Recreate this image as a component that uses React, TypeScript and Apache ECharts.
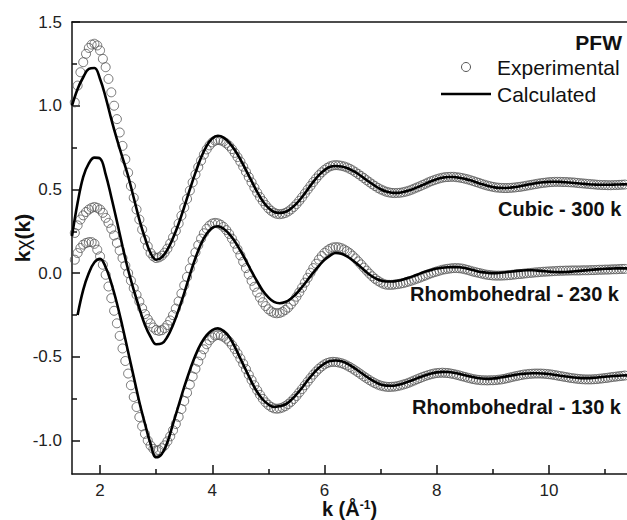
import React, { useEffect, useRef } from "react";
import * as echarts from "echarts";

// k grids (Å^-1): experimental sampled every 0.05, calculated every 0.1
const K_EXP_START = 1.55;
const K_EXP_STEP = 0.05;
const K_CALC_START = 1.5;
const K_CALC_STEP = 0.1;

// Cubic - 300 K, experimental (k = 1.55 ... 11.35)
const cubicExp = [
  1.02, 1.12, 1.2, 1.26, 1.31, 1.345, 1.365, 1.37, 1.36, 1.33, 1.28, 1.23, 1.16, 1.08, 1.0, 0.92, 0.84, 0.76, 0.68, 0.6,
  0.52, 0.45, 0.38, 0.32, 0.26, 0.2, 0.16, 0.12, 0.1, 0.09,
  0.094, 0.104, 0.122, 0.146, 0.177, 0.213, 0.252, 0.296, 0.343, 0.392, 0.443, 0.493, 0.542, 0.589, 0.633, 0.672, 0.708, 0.739, 0.763, 0.781, 0.791, 0.795,
  0.793, 0.786, 0.775, 0.76, 0.741, 0.718, 0.693, 0.666, 0.636, 0.605, 0.574, 0.542, 0.511, 0.481, 0.454, 0.43, 0.407, 0.387, 0.372, 0.361, 0.354, 0.352,
  0.354, 0.359, 0.368, 0.38, 0.395, 0.412, 0.432, 0.453, 0.476, 0.499, 0.521, 0.544, 0.565, 0.585, 0.602, 0.617, 0.629, 0.638, 0.643, 0.645,
  0.644, 0.641, 0.637, 0.631, 0.623, 0.614, 0.603, 0.592, 0.58, 0.568, 0.555, 0.543, 0.531, 0.52, 0.509, 0.5, 0.493, 0.486, 0.482, 0.479, 0.478,
  0.479, 0.48, 0.483, 0.487, 0.492, 0.498, 0.505, 0.512, 0.519, 0.527, 0.534, 0.542, 0.549, 0.555, 0.561, 0.566, 0.57, 0.573, 0.574, 0.575,
  0.575, 0.573, 0.571, 0.568, 0.564, 0.56, 0.555, 0.55, 0.544, 0.539, 0.533, 0.528, 0.523, 0.519, 0.515, 0.512, 0.51, 0.509, 0.508,
  0.508, 0.509, 0.51, 0.512, 0.514, 0.516, 0.519, 0.522, 0.525, 0.528, 0.531, 0.534, 0.537, 0.539, 0.541, 0.543, 0.544, 0.545, 0.545,
  0.545, 0.544, 0.544, 0.543, 0.542, 0.541, 0.539, 0.537, 0.536, 0.534, 0.533, 0.531, 0.53, 0.528, 0.527, 0.526, 0.526, 0.525, 0.525, 0.526, 0.526, 0.527, 0.528, 0.529,
];

// Rhombohedral - 230 K, experimental
const rh230Exp = [
  0.24, 0.285, 0.32, 0.345, 0.365, 0.38, 0.39, 0.395, 0.39, 0.38, 0.36, 0.33, 0.3, 0.265, 0.225, 0.18, 0.135, 0.09, 0.045, 0.0,
  -0.045, -0.09, -0.13, -0.17, -0.21, -0.245, -0.275, -0.3, -0.325, -0.34,
  -0.345,
  -0.341, -0.329, -0.31, -0.283, -0.251, -0.212, -0.169, -0.122, -0.073, -0.023, 0.028, 0.077, 0.124, 0.167, 0.206, 0.238, 0.265, 0.284, 0.296, 0.3,
  0.297, 0.289, 0.276, 0.257, 0.234, 0.206, 0.176, 0.142, 0.106, 0.068, 0.03, -0.008, -0.046, -0.082, -0.116, -0.146, -0.174, -0.197, -0.216, -0.229, -0.237, -0.24,
  -0.238, -0.231, -0.22, -0.206, -0.187, -0.166, -0.141, -0.115, -0.087, -0.057, -0.028, 0.002, 0.03, 0.056, 0.081, 0.102, 0.121, 0.135, 0.146, 0.153, 0.155,
  0.154, 0.149, 0.141, 0.131, 0.119, 0.104, 0.088, 0.07, 0.052, 0.033, 0.015, -0.003, -0.019, -0.034, -0.046, -0.056, -0.064, -0.069, -0.07,
  -0.07, -0.068, -0.066, -0.063, -0.06, -0.055, -0.05, -0.045, -0.039, -0.033, -0.027, -0.02, -0.014, -0.007, -0.001, 0.005, 0.01, 0.015, 0.02, 0.023, 0.026, 0.028, 0.03, 0.03,
  0.029, 0.027, 0.023, 0.019, 0.014, 0.009, 0.005, 0.001, -0.003, -0.007, -0.01, -0.012, -0.014, -0.015, -0.015, -0.015, -0.014, -0.013, -0.012, -0.01,
  -0.008, -0.006, -0.005, -0.003, -0.001, 0.001, 0.002, 0.004, 0.005, 0.007, 0.008, 0.009, 0.01, 0.011, 0.012, 0.013, 0.014, 0.014, 0.015, 0.015,
  0.016, 0.016, 0.016, 0.016, 0.017, 0.017, 0.017, 0.018, 0.018, 0.019, 0.02, 0.02, 0.021, 0.021, 0.022, 0.023, 0.023, 0.024, 0.025, 0.025,
];

// Rhombohedral - 130 K, experimental
const rh130Exp = [
  0.08, 0.12, 0.15, 0.17, 0.18, 0.185, 0.185, 0.175, 0.14, 0.1, 0.05, -0.01, -0.08, -0.15, -0.225, -0.3, -0.375, -0.45, -0.525, -0.6,
  -0.67, -0.74, -0.8, -0.86, -0.915, -0.96, -1.0, -1.03, -1.05, -1.06,
  -1.057, -1.046, -1.029, -1.005, -0.975, -0.939, -0.901, -0.859, -0.812, -0.764, -0.715, -0.666, -0.618, -0.572, -0.529, -0.491, -0.455, -0.425, -0.401, -0.384, -0.373, -0.37,
  -0.373, -0.38, -0.392, -0.408, -0.429, -0.453, -0.48, -0.51, -0.541, -0.574, -0.607, -0.639, -0.67, -0.7, -0.727, -0.751, -0.772, -0.788, -0.8, -0.808, -0.81,
  -0.808, -0.803, -0.795, -0.783, -0.769, -0.752, -0.734, -0.713, -0.692, -0.67, -0.648, -0.627, -0.606, -0.588, -0.571, -0.557, -0.545, -0.537, -0.532, -0.53,
  -0.531, -0.534, -0.538, -0.544, -0.552, -0.561, -0.571, -0.582, -0.593, -0.605, -0.617, -0.628, -0.639, -0.649, -0.658, -0.666, -0.672, -0.676, -0.679, -0.68,
  -0.679, -0.678, -0.675, -0.671, -0.666, -0.661, -0.655, -0.648, -0.641, -0.634, -0.627, -0.62, -0.614, -0.609, -0.604, -0.6, -0.597, -0.596, -0.595,
  -0.596, -0.597, -0.6, -0.603, -0.607, -0.611, -0.616, -0.62, -0.625, -0.629, -0.633, -0.636, -0.638, -0.64, -0.64, -0.641, -0.64,
  -0.64, -0.639, -0.637, -0.635, -0.632, -0.628, -0.624, -0.62, -0.616, -0.613, -0.609, -0.606, -0.604, -0.602, -0.601, -0.6, -0.6,
  -0.6, -0.601, -0.602, -0.604, -0.606, -0.609, -0.612, -0.615, -0.618, -0.621, -0.624, -0.627, -0.629, -0.631, -0.633, -0.634, -0.635, -0.635, -0.635,
  -0.634, -0.633, -0.631, -0.629, -0.627, -0.625, -0.622, -0.62, -0.618, -0.616, -0.614, -0.612,
];

// Calculated fits (k = 1.5 ... 11.4)
const cubicCalc = [
  1.0, 1.1, 1.17, 1.22, 1.225, 1.16, 1.05, 0.92, 0.8, 0.69, 0.58, 0.45, 0.32, 0.21, 0.12, 0.08,
  0.095, 0.14, 0.21, 0.295, 0.395, 0.5, 0.6, 0.69, 0.76, 0.805, 0.82,
  0.81, 0.78, 0.735, 0.68, 0.615, 0.55, 0.485, 0.43, 0.39, 0.365, 0.36,
  0.365, 0.385, 0.415, 0.455, 0.5, 0.545, 0.585, 0.615, 0.635, 0.64,
  0.637, 0.628, 0.612, 0.592, 0.568, 0.544, 0.521, 0.501, 0.487, 0.48,
  0.479, 0.484, 0.493, 0.505, 0.519, 0.534, 0.549, 0.561, 0.57, 0.574,
  0.574, 0.57, 0.563, 0.554, 0.543, 0.532, 0.522, 0.514, 0.509, 0.508,
  0.51, 0.514, 0.52, 0.527, 0.533, 0.539, 0.543, 0.545, 0.546, 0.545,
  0.543, 0.54, 0.537, 0.534, 0.531, 0.529, 0.528, 0.528, 0.528, 0.529, 0.53, 0.531,
];

const rh230Calc = [
  0.22, 0.42, 0.575, 0.655, 0.69, 0.685, 0.59, 0.455, 0.31, 0.16, 0.02, -0.1, -0.21, -0.31, -0.38, -0.425,
  -0.42, -0.38, -0.31, -0.22, -0.12, -0.01, 0.09, 0.175, 0.235, 0.27, 0.28,
  0.265, 0.235, 0.19, 0.135, 0.075, 0.01, -0.05, -0.105, -0.145, -0.172, -0.18,
  -0.173, -0.153, -0.122, -0.083, -0.04, 0.003, 0.043, 0.08, 0.105, 0.12,
  0.115, 0.1, 0.077, 0.05, 0.02, -0.008, -0.03, -0.044, -0.05, -0.05,
  -0.046, -0.038, -0.028, -0.016, -0.003, 0.009, 0.019, 0.027, 0.032, 0.035,
  0.036, 0.035, 0.03, 0.022, 0.013, 0.006, 0.002, 0.0, 0.001, 0.004,
  0.008, 0.012, 0.015, 0.017, 0.017, 0.015, 0.012, 0.009, 0.007, 0.006,
  0.007, 0.009, 0.012, 0.015, 0.018, 0.021, 0.024, 0.026, 0.027, 0.028, 0.028, 0.028,
];

const rh130Calc = [
  null, -0.25, -0.1, 0.0, 0.065, 0.085, 0.035, -0.06, -0.18, -0.32, -0.47, -0.62, -0.77, -0.9, -1.02, -1.1,
  -1.08, -1.01, -0.9, -0.79, -0.68, -0.58, -0.49, -0.42, -0.37, -0.34, -0.33,
  -0.345, -0.38, -0.44, -0.51, -0.58, -0.65, -0.71, -0.755, -0.785, -0.8, -0.795,
  -0.785, -0.76, -0.725, -0.685, -0.64, -0.6, -0.565, -0.54, -0.525, -0.522,
  -0.527, -0.54, -0.56, -0.583, -0.607, -0.63, -0.65, -0.665, -0.672, -0.673,
  -0.668, -0.659, -0.648, -0.635, -0.622, -0.61, -0.6, -0.593, -0.59, -0.591,
  -0.595, -0.602, -0.61, -0.618, -0.625, -0.63, -0.632, -0.63, -0.626, -0.62,
  -0.614, -0.608, -0.603, -0.6, -0.598, -0.598, -0.6, -0.603, -0.608, -0.613,
  -0.618, -0.622, -0.625, -0.627, -0.627, -0.625, -0.622, -0.619, -0.616, -0.614, -0.612, -0.611,
];

const xMajorTicks = [2, 4, 6, 8, 10];
const xMinorTicks = [3, 5, 7, 9, 11];
const yMajorTicks = [-1.0, -0.5, 0.0, 0.5, 1.0, 1.5];
const yMinorTicks = [-0.75, -0.25, 0.25, 0.75, 1.25];

const curveLabels = ["Cubic - 300 k", "Rhombohedral - 230 k", "Rhombohedral - 130 k"];
const legendTitle = "PFW";
const legendNames = ["Experimental", "Calculated"];

const FONT = "'Liberation Sans', Arial, Helvetica, sans-serif";

const toPairs = (vals: (number | null)[], start: number, step: number) =>
  vals.map((v, i) => [Math.round((start + i * step) * 100) / 100, v]);

export default function App() {
  const ref = useRef<HTMLDivElement>(null);

  useEffect(() => {
    if (!ref.current) return;
    const chart = echarts.init(ref.current, undefined, { renderer: "svg" });

    const expStyle = {
      type: "scatter" as const,
      symbol: "circle",
      symbolSize: 9,
      silent: true,
      z: 2,
      itemStyle: { color: "rgba(255,255,255,0)", borderColor: "#555", borderWidth: 1 },
    };
    const calcStyle = {
      type: "line" as const,
      showSymbol: false,
      smooth: 0.4,
      silent: true,
      z: 3,
      lineStyle: { color: "#000", width: 2.6 },
    };

    const axisLine = { show: true, onZero: false, lineStyle: { color: "#111", width: 1.5 } };

    chart.setOption({
      animation: false,
      backgroundColor: "#fff",
      grid: { left: 72, right: 0, top: 22, bottom: 46, containLabel: false, outerBoundsMode: "none" },
      xAxis: [
        {
          type: "value",
          min: 1.5,
          max: 11.39,
          position: "bottom",
          axisLine,
          splitLine: { show: false },
          axisTick: { show: true, inside: true, length: 9, customValues: xMajorTicks, lineStyle: { color: "#111", width: 1.5 } },
          axisLabel: {
            customValues: xMajorTicks,
            margin: 8,
            fontSize: 17,
            lineHeight: 17,
            fontFamily: FONT,
            color: "#222",
            formatter: (v: number) => String(v),
          },
          name: "{a|k (Å}{s|-1}{a|)}",
          nameLocation: "middle",
          nameGap: 25,
          nameMoveOverlap: false,
          nameTextStyle: {
            rich: {
              a: { fontSize: 20, fontWeight: "bold", fontFamily: FONT, color: "#111", lineHeight: 20 },
              s: { fontSize: 12, fontWeight: "bold", fontFamily: FONT, color: "#111", verticalAlign: "top", lineHeight: 20 },
            },
          },
        },
        {
          type: "value",
          min: 1.5,
          max: 11.39,
          position: "bottom",
          axisLine: { show: false, onZero: false },
          splitLine: { show: false },
          axisTick: { show: true, inside: true, length: 5, customValues: xMinorTicks, lineStyle: { color: "#111", width: 1.5 } },
          axisLabel: { show: false },
        },
        {
          type: "value",
          min: 1.5,
          max: 11.39,
          position: "top",
          axisLine,
          splitLine: { show: false },
          axisTick: { show: false },
          axisLabel: { show: false },
        },
      ],
      yAxis: [
        {
          type: "value",
          min: -1.2,
          max: 1.5,
          position: "left",
          axisLine,
          splitLine: { show: false },
          axisTick: { show: true, inside: true, length: 8, customValues: yMajorTicks, lineStyle: { color: "#111", width: 1.5 } },
          axisLabel: {
            customValues: yMajorTicks,
            margin: 10,
            fontSize: 17,
            fontFamily: FONT,
            color: "#222",
            formatter: (v: number) => v.toFixed(1),
          },
        },
        {
          type: "value",
          min: -1.2,
          max: 1.5,
          position: "left",
          axisLine: { show: false, onZero: false },
          splitLine: { show: false },
          axisTick: { show: true, inside: true, length: 5, customValues: yMinorTicks, lineStyle: { color: "#111", width: 1.5 } },
          axisLabel: { show: false },
        },
      ],
      series: [
        { ...expStyle, name: legendNames[0], data: toPairs(cubicExp, K_EXP_START, K_EXP_STEP) },
        { ...expStyle, name: legendNames[0], data: toPairs(rh230Exp, K_EXP_START, K_EXP_STEP) },
        { ...expStyle, name: legendNames[0], data: toPairs(rh130Exp, K_EXP_START, K_EXP_STEP) },
        { ...calcStyle, name: legendNames[1], data: toPairs(cubicCalc, K_CALC_START, K_CALC_STEP) },
        { ...calcStyle, name: legendNames[1], data: toPairs(rh230Calc, K_CALC_START, K_CALC_STEP) },
        { ...calcStyle, name: legendNames[1], data: toPairs(rh130Calc, K_CALC_START, K_CALC_STEP) },
      ],
      graphic: [
        {
          type: "text",
          x: 22,
          y: 238,
          rotation: Math.PI / 2,
          style: {
            text: "{b|k}{g|χ}{b|(k)}",
            align: "center",
            verticalAlign: "middle",
            rich: {
              b: { fontSize: 21, fontWeight: "bold", fontFamily: FONT, fill: "#111" },
              g: { fontSize: 21, fontWeight: "normal", fontFamily: FONT, fill: "#111" },
            },
          },
        },
        {
          type: "text",
          x: 622,
          y: 42,
          style: { text: legendTitle, align: "right", verticalAlign: "middle", font: `bold 21px ${FONT}`, fill: "#111" },
        },
        {
          type: "circle",
          shape: { cx: 466, cy: 67, r: 4.5 },
          style: { fill: "none", stroke: "#555", lineWidth: 1 },
        },
        {
          type: "text",
          x: 497,
          y: 67,
          style: { text: legendNames[0], align: "left", verticalAlign: "middle", font: `21px ${FONT}`, fill: "#111" },
        },
        {
          type: "line",
          shape: { x1: 441, y1: 94, x2: 491, y2: 94 },
          style: { stroke: "#000", lineWidth: 2.6 },
        },
        {
          type: "text",
          x: 497,
          y: 94,
          style: { text: legendNames[1], align: "left", verticalAlign: "middle", font: `21px ${FONT}`, fill: "#111" },
        },
        {
          type: "text",
          x: 498,
          y: 209,
          style: { text: curveLabels[0], align: "left", verticalAlign: "middle", font: `bold 20px ${FONT}`, fill: "#111" },
        },
        {
          type: "text",
          x: 410,
          y: 294,
          style: { text: curveLabels[1], align: "left", verticalAlign: "middle", font: `bold 20px ${FONT}`, fill: "#111" },
        },
        {
          type: "text",
          x: 412,
          y: 407,
          style: { text: curveLabels[2], align: "left", verticalAlign: "middle", font: `bold 20px ${FONT}`, fill: "#111" },
        },
      ],
    });

    return () => chart.dispose();
  }, []);

  return (
    <div
      ref={ref}
      style={{ position: "fixed", left: 0, top: 0, width: 627, height: 520, background: "#fff" }}
    />
  );
}
